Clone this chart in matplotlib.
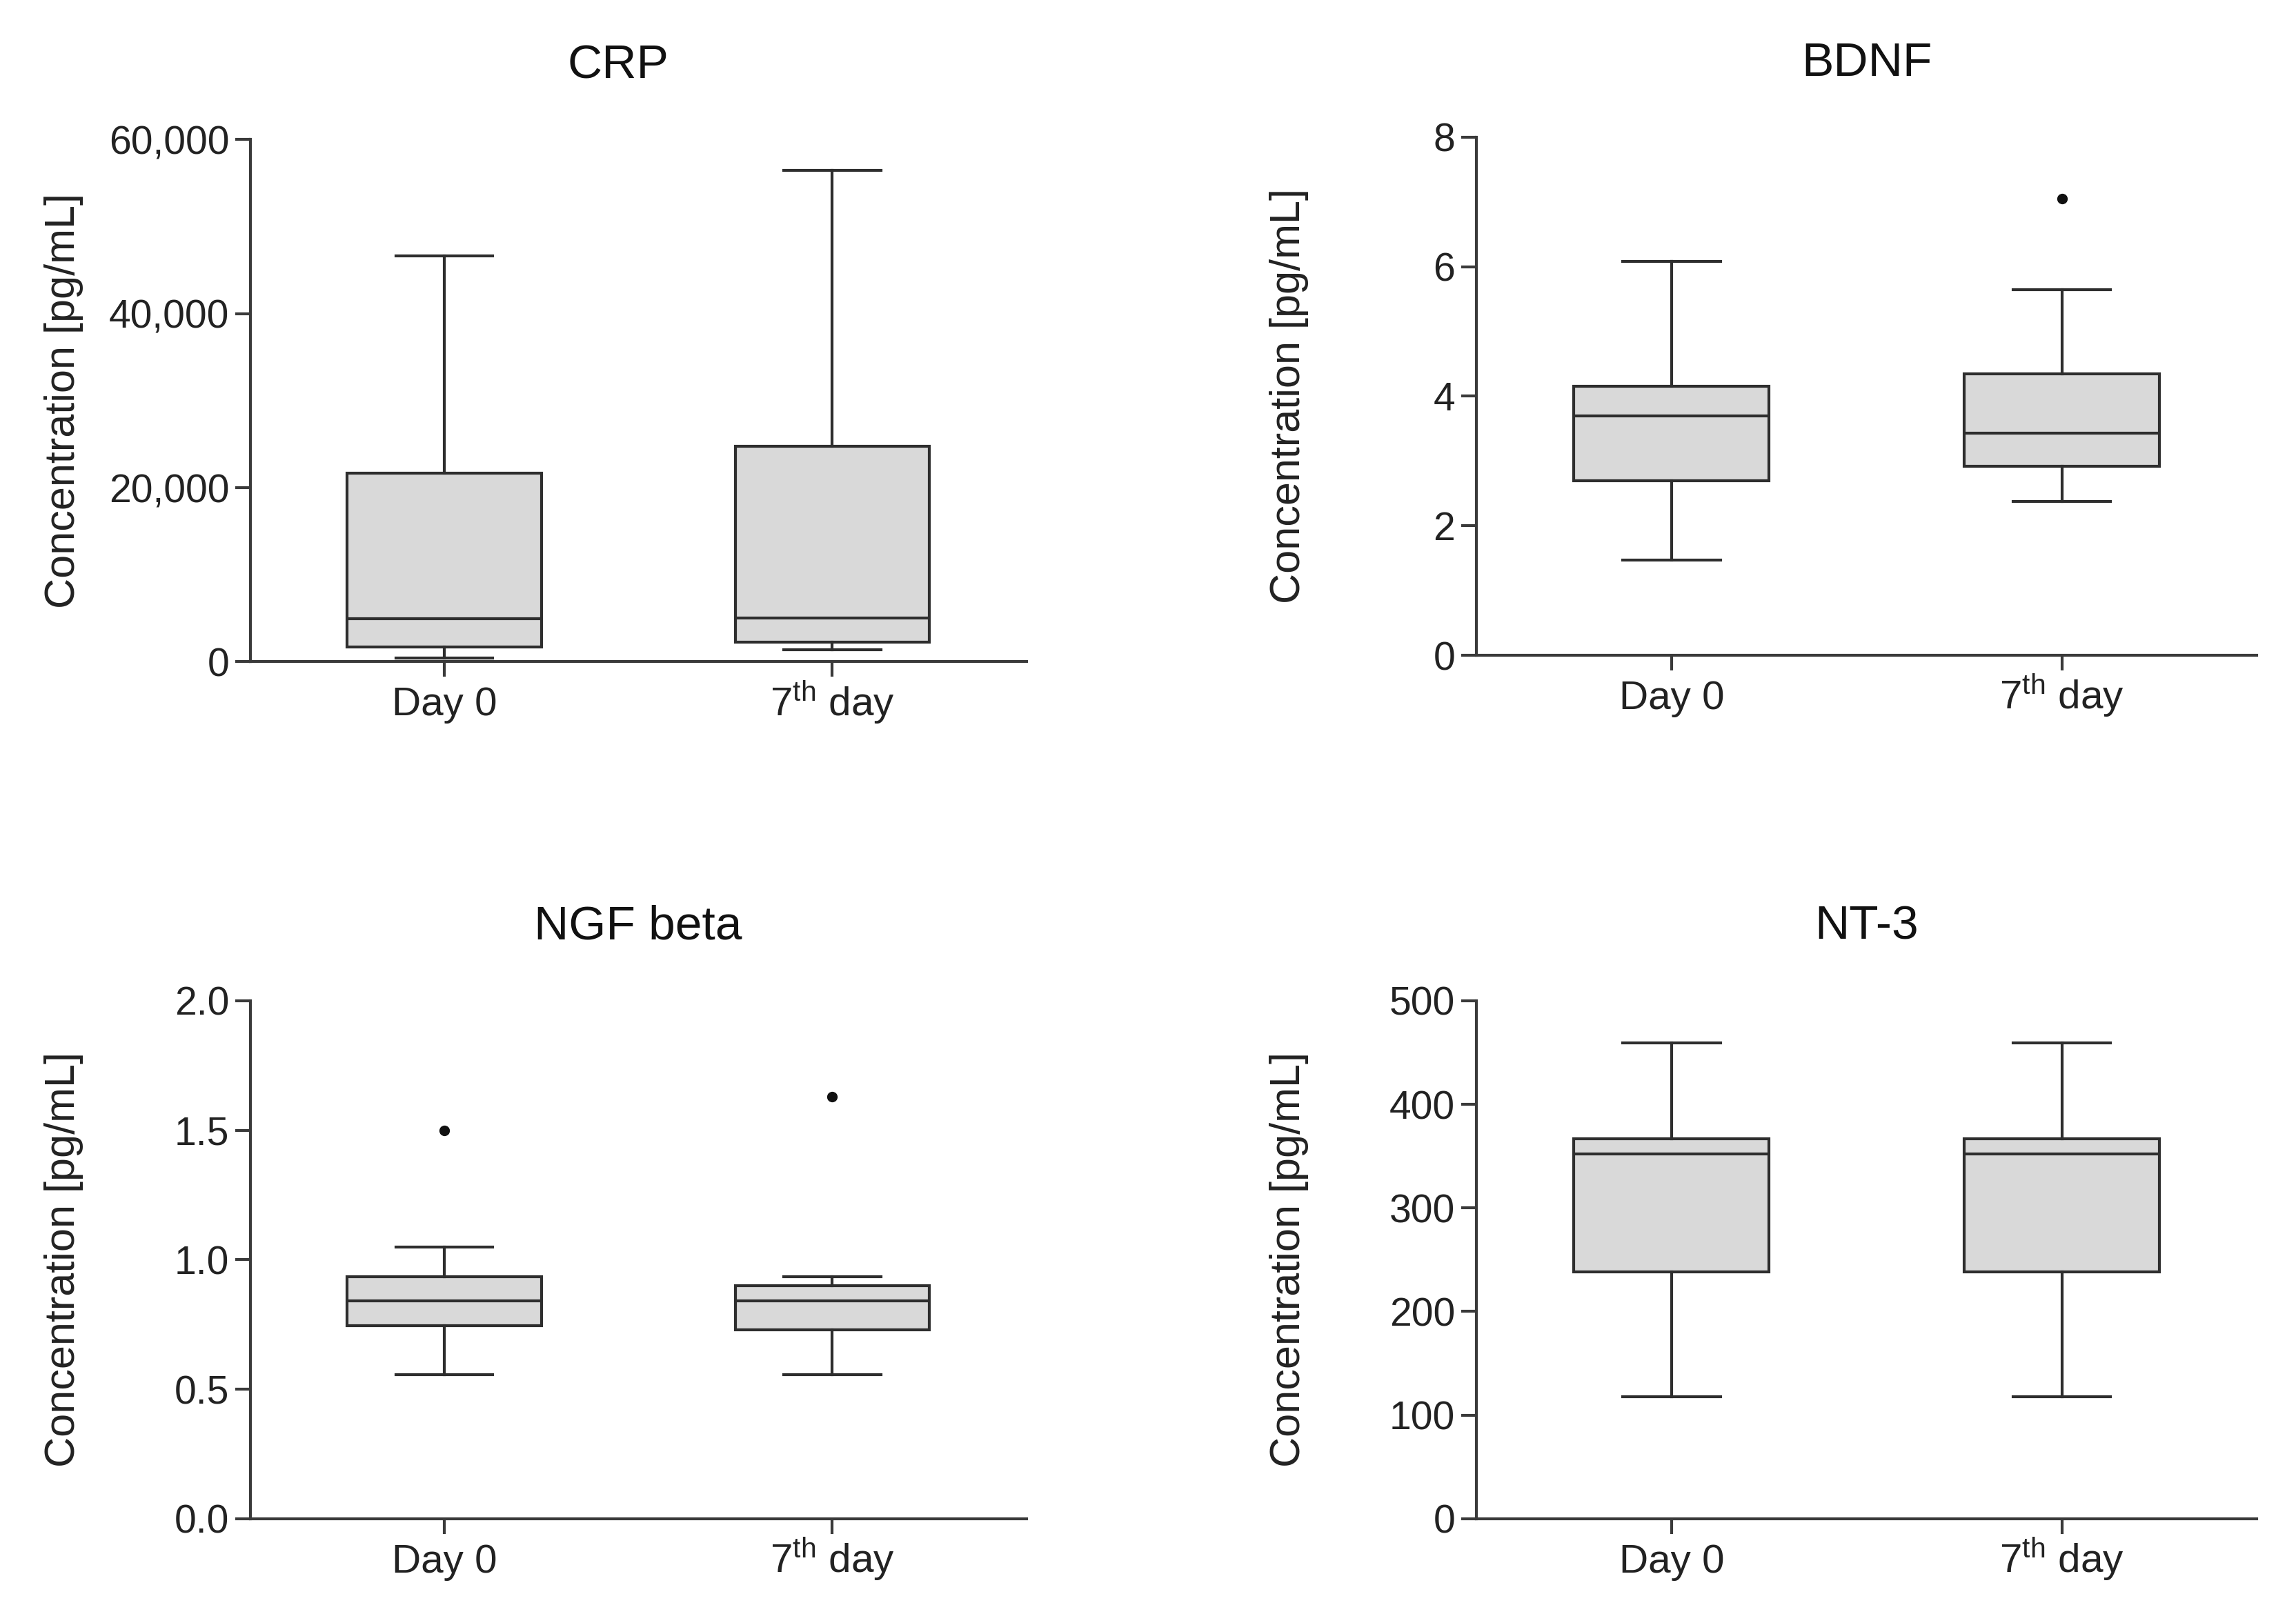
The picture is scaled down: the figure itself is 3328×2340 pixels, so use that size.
"""
Box plots of CRP, BDNF, NGF beta and NT-3 concentrations, day 0 vs 7th day
"""

# Imports
import matplotlib
matplotlib.use("Agg")
import matplotlib.pyplot as plt
import matplotlib.ticker as ticker

# Fonts
NARROW = ["Liberation Sans Narrow", "Liberation Sans", "DejaVu Sans"]
REGULAR = ["Liberation Sans", "DejaVu Sans"]
plt.rcParams["font.family"] = REGULAR
plt.rcParams["mathtext.fontset"] = "custom"
plt.rcParams["mathtext.rm"] = "Liberation Sans"
plt.rcParams["mathtext.it"] = "Liberation Sans"

# Data
groups = ["Day 0", r"7$^{\mathrm{th}}$ day"]
titles = ["CRP", "BDNF", "NGF beta", "NT-3"]

crp_q1 = [1700, 2250]
crp_med = [4950, 5050]
crp_q3 = [21700, 24800]
crp_lo = [400, 1400]
crp_hi = [46600, 56500]
crp_out = [[], []]

bdnf_q1 = [2.70, 2.92]
bdnf_med = [3.70, 3.43]
bdnf_q3 = [4.15, 4.35]
bdnf_lo = [1.47, 2.38]
bdnf_hi = [6.08, 5.65]
bdnf_out = [[], [7.05]]

ngf_q1 = [0.745, 0.73]
ngf_med = [0.84, 0.84]
ngf_q3 = [0.935, 0.90]
ngf_lo = [0.555, 0.555]
ngf_hi = [1.048, 0.935]
ngf_out = [[1.50], [1.63]]

nt3_q1 = [238, 238]
nt3_med = [352, 352]
nt3_q3 = [367, 367]
nt3_lo = [118, 118]
nt3_hi = [459, 459]
nt3_out = [[], []]

y_limits = [(0, 60000), (0, 8), (0, 2.0), (0, 500)]
y_ticks = [[0, 20000, 40000, 60000], [0, 2, 4, 6, 8],
           [0.0, 0.5, 1.0, 1.5, 2.0], [0, 100, 200, 300, 400, 500]]
y_formats = ["{:,.0f}", "{:.0f}", "{:.1f}", "{:.0f}"]

# Styles
LINE = "#2e2e2e"
FILL = "#d9d9d9"
LW = 1.5


def make_stats(q1, med, q3, lo, hi, out):
    stats = []
    for i in range(len(groups)):
        stats.append({"q1": q1[i], "med": med[i], "q3": q3[i],
                      "whislo": lo[i], "whishi": hi[i], "fliers": out[i]})
    return stats


panels = [
    make_stats(crp_q1, crp_med, crp_q3, crp_lo, crp_hi, crp_out),
    make_stats(bdnf_q1, bdnf_med, bdnf_q3, bdnf_lo, bdnf_hi, bdnf_out),
    make_stats(ngf_q1, ngf_med, ngf_q3, ngf_lo, ngf_hi, ngf_out),
    make_stats(nt3_q1, nt3_med, nt3_q3, nt3_lo, nt3_hi, nt3_out),
]

# Axes rectangles in figure fraction
rects = [
    [0.109, 0.590, 0.338, 0.3235],
    [0.643, 0.594, 0.340, 0.321],
    [0.109, 0.059, 0.338, 0.321],
    [0.643, 0.059, 0.340, 0.321],
]
title_x = [0.474, 0.5, 0.5, 0.5]

fig = plt.figure(figsize=(16.64, 11.70), dpi=200)

for k in range(4):
    ax = fig.add_axes(rects[k])
    ax.bxp(panels[k], positions=[1, 2], widths=0.5, capwidths=0.25,
           patch_artist=True, manage_ticks=False,
           boxprops=dict(facecolor=FILL, edgecolor=LINE, linewidth=LW),
           medianprops=dict(color=LINE, linewidth=LW),
           whiskerprops=dict(color=LINE, linewidth=LW),
           capprops=dict(color=LINE, linewidth=LW),
           flierprops=dict(marker="o", markerfacecolor="#111111",
                           markeredgecolor="#111111", markersize=4.5))

    ax.set_xlim(0.5, 2.5)
    ax.set_ylim(*y_limits[k])
    ax.set_yticks(y_ticks[k])
    fmt = y_formats[k]
    ax.yaxis.set_major_formatter(ticker.FuncFormatter(lambda v, p, f=fmt: f.format(v)))
    ax.set_xticks([1, 2])
    ax.set_xticklabels(groups)

    # Only left and bottom axis lines
    for side in ["top", "right"]:
        ax.spines[side].set_visible(False)
    for side in ["left", "bottom"]:
        ax.spines[side].set_color("#3a3a3a")
        ax.spines[side].set_linewidth(LW)

    ax.tick_params(axis="both", direction="out", length=8, width=LW, color="#3a3a3a")
    ax.tick_params(axis="y", pad=3, labelsize=20.5, labelcolor="#222222")
    ax.tick_params(axis="x", pad=20, labelsize=21, labelcolor="#222222")
    for lab in ax.get_yticklabels():
        lab.set_family(NARROW)
    for lab in ax.get_xticklabels():
        lab.set_family(NARROW)
        lab.set_verticalalignment("baseline")

    ax.set_ylabel("Concentration [pg/mL]", fontsize=22, color="#222222")
    ax.yaxis.set_label_coords(-0.215, 0.5)
    ax.set_title(titles[k], fontsize=25, color="#111111", pad=32, x=title_x[k])

fig.savefig("out.png", dpi=200)
